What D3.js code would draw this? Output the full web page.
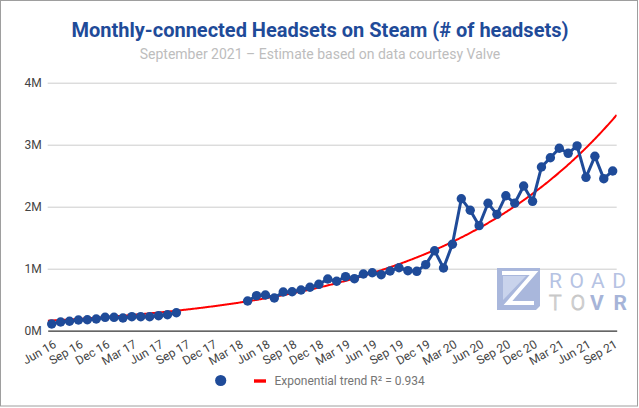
<!DOCTYPE html>
<html><head><meta charset="utf-8">
<script src="https://cdn.jsdelivr.net/npm/d3@7"></script>
<style>
body{margin:0;background:#fff}
svg{display:block}
text{font-family:Roboto,"Noto Sans",sans-serif}
</style>
</head><body>
<svg id="c" width="639" height="408"></svg>
<script>
const title = "Monthly-connected Headsets on Steam (# of headsets)";
const subtitle = "September 2021 \u2013 Estimate based on data courtesy Valve";
const legendLabel = "Exponential trend R\u00B2 = 0.934";

const months = [
 "Jun 16","Jul 16","Aug 16","Sep 16","Oct 16","Nov 16","Dec 16","Jan 17","Feb 17","Mar 17","Apr 17","May 17",
 "Jun 17","Jul 17","Aug 17","Sep 17","Oct 17","Nov 17","Dec 17","Jan 18","Feb 18","Mar 18","Apr 18","May 18",
 "Jun 18","Jul 18","Aug 18","Sep 18","Oct 18","Nov 18","Dec 18","Jan 19","Feb 19","Mar 19","Apr 19","May 19",
 "Jun 19","Jul 19","Aug 19","Sep 19","Oct 19","Nov 19","Dec 19","Jan 20","Feb 20","Mar 20","Apr 20","May 20",
 "Jun 20","Jul 20","Aug 20","Sep 20","Oct 20","Nov 20","Dec 20","Jan 21","Feb 21","Mar 21","Apr 21","May 21",
 "Jun 21","Jul 21","Aug 21","Sep 21"
];
// headsets, in millions (null = no data)
const headsets = [
 0.108,0.140,0.152,0.173,0.177,0.189,0.216,0.216,0.205,0.226,0.226,0.226,
 0.242,0.258,0.290,null,null,null,null,null,null,null,0.479,0.565,
 0.576,0.527,0.624,0.629,0.656,0.700,0.748,0.834,0.797,0.871,0.839,0.915,
 0.935,0.903,0.963,1.016,0.968,0.958,1.065,1.290,1.011,1.394,2.129,1.942,
 1.694,2.055,1.877,2.177,2.055,2.334,2.087,2.640,2.790,2.942,2.861,2.980,
 2.474,2.813,2.452,2.576
];
// exponential trend y = A * e^(B * monthIndex) (millions)
const trendA = 0.1645;
const trendB = 0.0481;
const tickLabels = ["Jun 16","Sep 16","Dec 16","Mar 17","Jun 17","Sep 17","Dec 17","Mar 18","Jun 18","Sep 18","Dec 18",
 "Mar 19","Jun 19","Sep 19","Dec 19","Mar 20","Jun 20","Sep 20","Dec 20","Mar 21","Jun 21","Sep 21"];
const yTicks = [0,1,2,3,4];

const BLUE = "#1f4b99";
const svg = d3.select("#c");
const L = 47.7, R = 616.7, T = 82.7, B = 330.7;

svg.append("rect").attr("x",0.5).attr("y",0.5).attr("width",637).attr("height",405.5)
  .attr("fill","#fff").attr("stroke","#9e9e9e").attr("stroke-width",1);

svg.append("text").attr("x",320).attr("y",37).attr("text-anchor","middle")
  .attr("font-size",20).attr("font-weight",700).attr("fill",BLUE).text(title);
svg.append("text").attr("x",320).attr("y",58.5).attr("text-anchor","middle")
  .attr("font-size",14).attr("fill","#bdbdbd").text(subtitle);

const x = d3.scaleLinear().domain([-0.45, months.length - 1 + 0.45]).range([L, R]);
const y = d3.scaleLinear().domain([0, 4]).range([B, T]);

// y grid + labels
const ya = svg.append("g").attr("transform",`translate(${L},0)`)
  .call(d3.axisLeft(y).tickValues(yTicks).tickFormat(d => d + "M").tickSize(-(R - L)).tickPadding(6));
ya.select(".domain").remove();
ya.selectAll(".tick line").attr("stroke","#cccccc").attr("stroke-width",1)
  .filter(d => d === 0).remove();
ya.selectAll(".tick text").attr("font-size",12).attr("fill","#444").attr("font-family","Roboto,sans-serif");

// watermark logo
const lg = svg.append("g").attr("class","logo");
lg.append("path").attr("d","M497,268 H540 V306 L536,310 H497 Z").attr("fill","#a9b7dc");
lg.append("path").attr("d","M502,273 H534 L508,303 H534").attr("fill","none").attr("stroke","#fff").attr("stroke-width",4);
lg.append("path").attr("d","M503,276 H526 L503,300 Z").attr("fill","#c9d3ec");
lg.append("text").attr("x",549).attr("y",288).attr("font-size",21).attr("font-family","Lato,sans-serif")
  .attr("font-weight",400).attr("fill","#b6c3e3")
  .attr("textLength",77).attr("lengthAdjust","spacing").text("ROAD");
lg.append("text").attr("x",549).attr("y",310).attr("font-size",21).attr("font-family","Lato,sans-serif")
  .attr("font-weight",300).attr("fill","none").attr("stroke","#c8c8c8").attr("stroke-width",1)
  .attr("textLength",36).attr("lengthAdjust","spacing").text("TO");
lg.append("text").attr("x",590).attr("y",310).attr("font-size",21).attr("font-family","Lato,sans-serif")
  .attr("font-weight",700).attr("fill","#a6b4d8")
  .attr("textLength",37).attr("lengthAdjust","spacing").text("VR");

// x axis
const xa = svg.append("g").attr("transform",`translate(0,${B})`)
  .call(d3.axisBottom(x).tickValues(tickLabels.map(t => months.indexOf(t)))
    .tickFormat(i => months[i]).tickSize(0).tickSizeOuter(0));
xa.select(".domain").attr("stroke","#333").attr("stroke-width",1.3);
xa.selectAll(".tick text").attr("font-size",12).attr("fill","#444").attr("font-family","Roboto,sans-serif")
  .attr("text-anchor","end").attr("x",0).attr("y",0).attr("dy",0)
  .attr("transform","translate(5,16) rotate(-30)");

// exponential trend line
const tt = d3.range(x.domain()[0], x.domain()[1] + 0.001, 0.1);
svg.append("clipPath").attr("id","clip").append("rect").attr("x",L).attr("y",T-5).attr("width",R-L).attr("height",B-T+5);
svg.append("path").attr("clip-path","url(#clip)")
  .attr("d", d3.line().x(t => x(t)).y(t => y(trendA*Math.exp(trendB*t)))(tt))
  .attr("fill","none").attr("stroke","#ff0000").attr("stroke-width",2);

// data line + points
const pts = headsets.map((v,i) => [i,v]).filter(d => d[1] != null);
svg.append("path")
  .attr("d", d3.line().defined(v => v != null).x((v,i) => x(i)).y(v => y(v))(headsets))
  .attr("fill","none").attr("stroke",BLUE).attr("stroke-width",3).attr("stroke-linejoin","round");
svg.append("g").selectAll("circle").data(pts).join("circle")
  .attr("cx", d => x(d[0])).attr("cy", d => y(d[1])).attr("r",4.7).attr("fill",BLUE);

// legend
svg.append("circle").attr("cx",220.7).attr("cy",380.5).attr("r",5.6).attr("fill",BLUE);
svg.append("line").attr("x1",254).attr("x2",266).attr("y1",381).attr("y2",381).attr("stroke","#ff0000").attr("stroke-width",3.4);
svg.append("text").attr("x",274.5).attr("y",385).attr("font-size",12).attr("fill","#757575").text(legendLabel);
</script>
</body></html>
